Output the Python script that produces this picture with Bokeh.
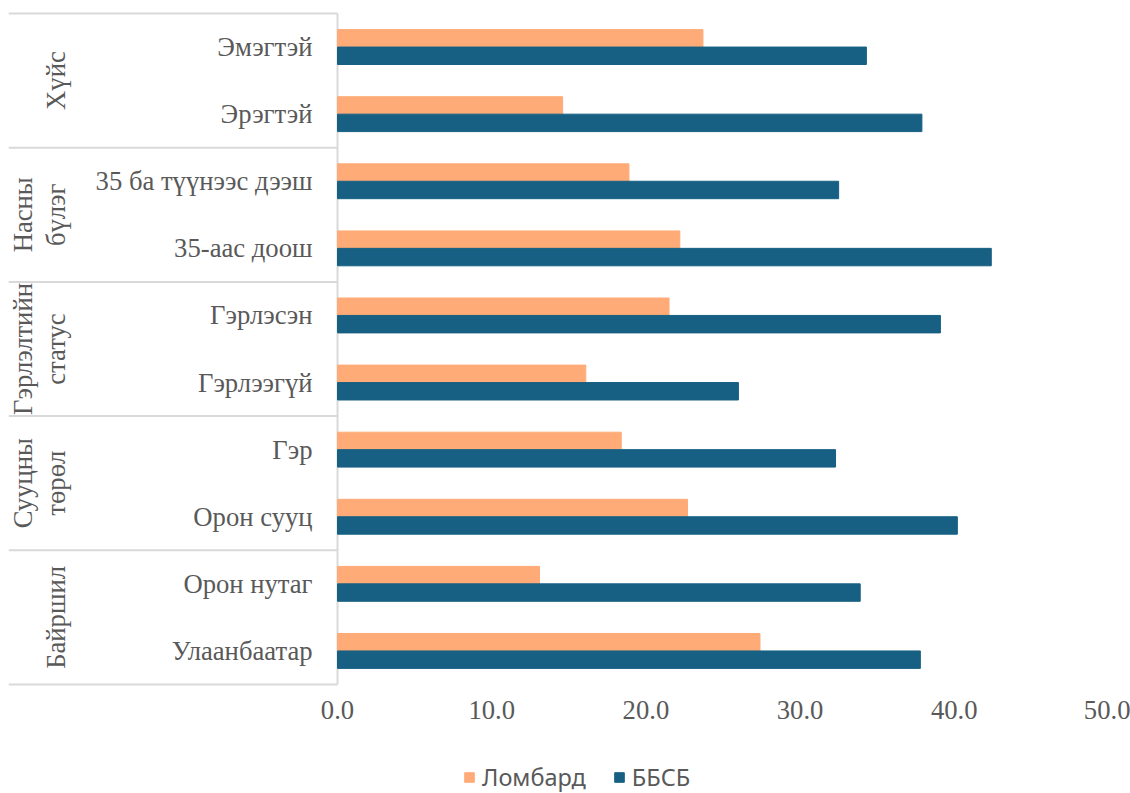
import numpy as np
from bokeh.plotting import figure
from bokeh.layouts import column
from bokeh.models import (Range1d, FixedTicker, NumeralTickFormatter, Legend,
                          LegendItem, ColumnDataSource)
from bokeh.core.properties import value
from bokeh.embed import file_html
from bokeh.resources import INLINE

# ---- data -------------------------------------------------------------
categories = ["Эмэгтэй", "Эрэгтэй", "35 ба түүнээс дээш", "35-аас доош",
              "Гэрлэсэн", "Гэрлээгүй", "Гэр", "Орон сууц",
              "Орон нутаг", "Улаанбаатар"]
groups = ["Хүйс", "Насны\nбүлэг", "Гэрлэлтийн\nстатус", "Сууцны\nтөрөл", "Байршил"]
group_sizes = [2, 2, 2, 2, 2]
series = ["Ломбард", "ББСБ"]
lombard = [23.7, 14.6, 18.9, 22.2, 21.5, 16.1, 18.4, 22.7, 13.1, 27.4]
bbsb = [34.3, 37.9, 32.5, 42.4, 39.1, 26.0, 32.3, 40.2, 33.9, 37.8]
x_ticks = [0, 10, 20, 30, 40, 50]

# ---- styles -----------------------------------------------------------
C_LOMB = "#FFAB78"
C_BBSB = "#176083"
C_TEXT = "#595959"
C_LINE = "#D9D9D9"
SERIF = "Liberation Serif"
FS = "26.67px"

n = len(categories)
ypos = np.arange(n) + 0.5
bounds = np.concatenate([[0], np.cumsum(group_sizes)])
gcenters = (bounds[:-1] + bounds[1:]) / 2.0

X0, X1 = -21.34, 51.43
p = figure(width=1130, height=740, output_backend="svg", toolbar_location=None,
           x_range=Range1d(X0, X1), y_range=Range1d(n + 0.03, -0.03),
           min_border_left=8, min_border_right=0, min_border_top=11,
           min_border_bottom=54)
p.outline_line_color = None
p.xgrid.grid_line_color = None
p.ygrid.grid_line_color = None
p.yaxis.visible = False

ax = p.xaxis[0]
ax.ticker = FixedTicker(ticks=x_ticks)
ax.formatter = NumeralTickFormatter(format="0.0")
ax.axis_line_color = None
ax.major_tick_line_color = None
ax.minor_tick_line_color = None
ax.major_tick_out = 0
ax.major_label_standoff = 14
ax.major_label_text_font = SERIF
ax.major_label_text_font_size = FS
ax.major_label_text_color = C_TEXT

# separators and category axis line
p.segment(x0=X0, y0=bounds, x1=0, y1=bounds, line_color=C_LINE, line_width=2)
p.segment(x0=[0], y0=[0], x1=[0], y1=[n], line_color=C_LINE, line_width=2)

src = ColumnDataSource(dict(cat=categories, y1=ypos - 0.13, y2=ypos + 0.13,
                            lomb=lombard, bbsb=bbsb, yc=ypos))
p.hbar(y="y1", right="lomb", left=0, height=0.26, source=src,
       fill_color=C_LOMB, line_color=C_LOMB)
p.hbar(y="y2", right="bbsb", left=0, height=0.26, source=src,
       fill_color=C_BBSB, line_color=C_BBSB)

# category labels
p.text(x=-1.62, y="yc", text="cat", source=src, text_align="right",
       text_baseline="middle", text_font=value(SERIF), text_font_size=FS,
       text_color=C_TEXT)

# group labels (rotated)
gsrc = ColumnDataSource(dict(g=groups, y=gcenters))
p.text(x=-17.3, y="y", text="g", source=gsrc, angle=np.pi / 2,
       text_align="center", text_baseline="bottom", text_font=value(SERIF),
       text_font_size=FS, text_color=C_TEXT, text_line_height=1.08)

# ---- legend strip -------------------------------------------------------
lp = figure(width=1130, height=53, output_backend="svg", toolbar_location=None,
            x_range=Range1d(0, 1), y_range=Range1d(0, 1),
            min_border_left=8, min_border_right=0, min_border_top=0,
            min_border_bottom=0)
lp.axis.visible = False
lp.grid.grid_line_color = None
lp.outline_line_color = None
# legend proxies: one bar per series, kept outside the strip's visible range
proxy = ColumnDataSource(dict(y=[-5.0], right=[0.0]))
l1 = lp.hbar(y="y", right="right", left=0, height=0.5, source=proxy,
             fill_color=C_LOMB, line_color=C_LOMB)
l2 = lp.hbar(y="y", right="right", left=0, height=0.5, source=proxy,
             fill_color=C_BBSB, line_color=C_BBSB)
legend = Legend(items=[LegendItem(label=series[0], renderers=[l1]),
                       LegendItem(label=series[1], renderers=[l2])],
                orientation="horizontal", location=(455, 0),
                glyph_width=12, glyph_height=12, label_standoff=7, spacing=27,
                padding=0, margin=0, border_line_color=None,
                background_fill_alpha=0, label_text_font="Noto Sans",
                label_text_font_size="23.5px", label_text_color=C_TEXT)
lp.add_layout(legend)

layout = column(p, lp, spacing=0)
open("out.html", "w").write(file_html(layout, INLINE))
